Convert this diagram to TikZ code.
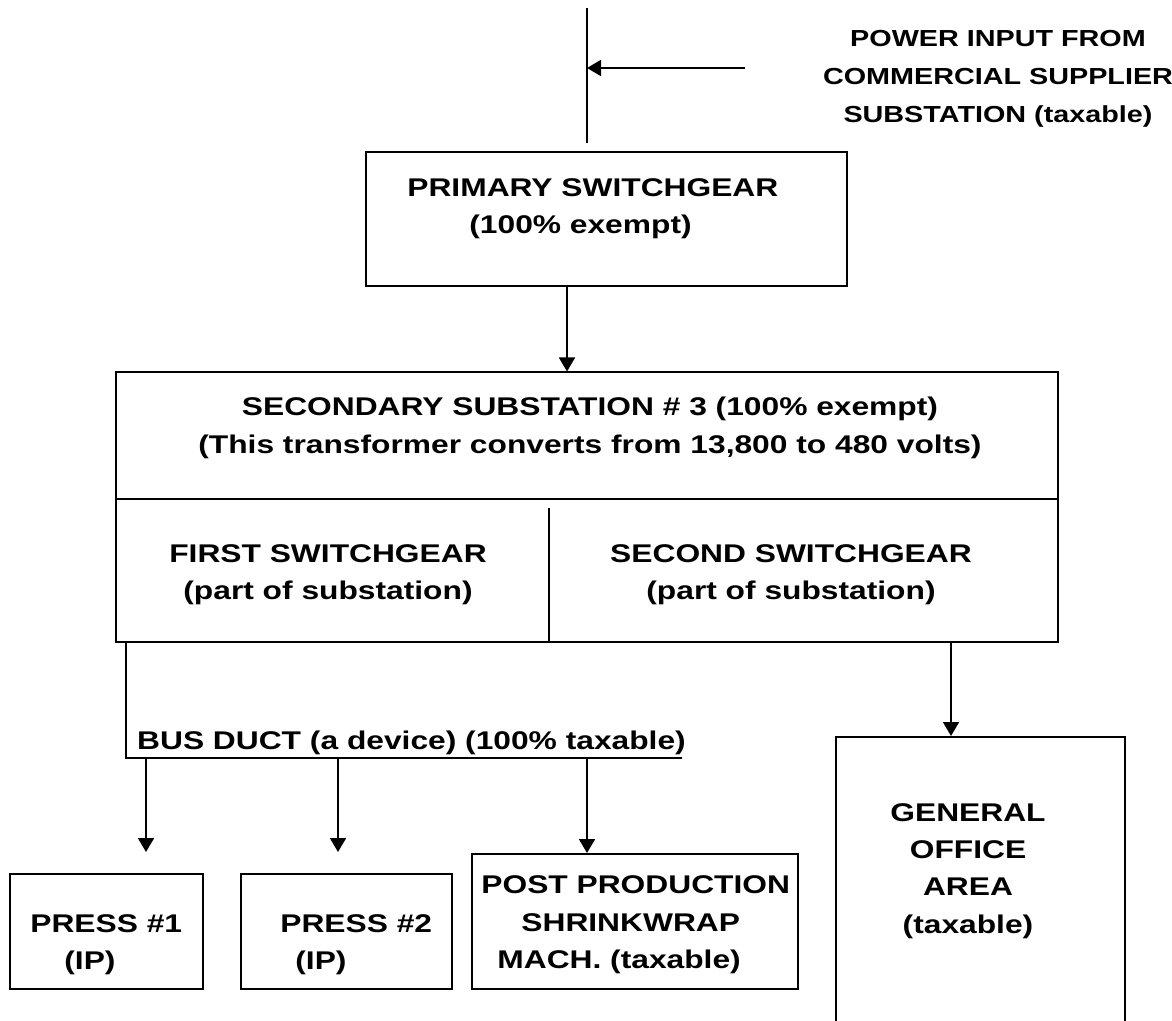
\documentclass[tikz,border=0pt]{standalone}
\usepackage{fontspec}
\setmainfont{Liberation Sans}[FakeStretch=1.24]
\usetikzlibrary{arrows.meta}
\begin{document}
\begin{tikzpicture}[x=0.5pt, y=-0.5pt,
    box/.style={draw, line width=1pt, inner sep=0pt},
    txt/.style={font=\fontsize{12.8}{18.7}\selectfont\bfseries, inner sep=0pt},
    wire/.style={line width=0.9pt},
    feed/.style={wire, -{Triangle[width=8pt,length=7pt]}}]
  \useasboundingbox (0,0) rectangle (1172,1021);
  \clip (0,0) rectangle (1172,1021);

  % Power input
  \coordinate (feedtop) at (587,8);
  \coordinate (feedbot) at (587,143);
  \coordinate (src) at (745,68);
  \coordinate (tap) at (587,68);
  \draw[wire] (feedtop) -- (feedbot);
  \draw[feed] (src) -- (tap);
  \node[txt, font=\fontsize{11.6}{19}\selectfont\bfseries, align=center] (input) at (998,79)
    {POWER INPUT FROM\\COMMERCIAL SUPPLIER\\SUBSTATION (taxable)};

  % Primary switchgear
  \node[box, minimum width=240.5pt, minimum height=67pt] (primary) at (606.5,219) {};
  \node[txt, anchor=west, align=left] (primarytxt) at (407,208.5)
    {PRIMARY SWITCHGEAR\\\hspace*{31pt}(100\% exempt)};

  % Secondary substation
  \node[box, minimum width=471pt, minimum height=134.75pt] (secondary) at (587,507.25) {};
  \draw[box] (secondary.west |- 0,499) -- (secondary.east |- 0,499);
  \draw[wire, line width=0.8pt] (549,508) -- (secondary.south -| 549,0);
  \node[txt, align=center] (secondarytxt) at (590,428)
    {SECONDARY SUBSTATION \# 3 (100\% exempt)\\(This transformer converts from 13,800 to 480 volts)};
  \node[txt, align=center] (firsttxt) at (328,575) {FIRST SWITCHGEAR\\(part of substation)};
  \node[txt, align=center] (secondtxt) at (791,575) {SECOND SWITCHGEAR\\(part of substation)};

  \coordinate (drop) at (567,0);
  \draw[feed] (primary.south -| drop) -- (secondary.north -| drop);

  % Bus duct
  \coordinate (busL) at (126,758);
  \coordinate (busR) at (682,758);
  \draw[wire] (secondary.south -| busL) -- (busL) -- (busR);
  \node[txt, anchor=base] (bustxt) at (411.5,749) {BUS DUCT (a device) (100\% taxable)};

  % Loads
  \node[box, minimum width=96.5pt, minimum height=57.5pt] (press1) at (106.5,931.5) {};
  \node[box, minimum width=105.5pt, minimum height=57.5pt] (press2) at (346.5,931.5) {};
  \node[box, minimum width=163pt, minimum height=67.5pt] (post) at (635,921.5) {};
  \node[box, minimum width=144.5pt, minimum height=151.5pt] (office) at (980.5,888.5) {};

  \node[txt, anchor=west, align=left] (press1txt) at (30,945) {PRESS \#1\\\hspace*{17pt}(IP)};
  \node[txt, anchor=west, align=left] (press2txt) at (280,945) {PRESS \#2\\\hspace*{7.5pt}(IP)};
  \node[txt, anchor=west, align=left] (posttxt) at (481,925)
    {POST PRODUCTION\\\hspace*{20pt}SHRINKWRAP\\\hspace*{8pt}MACH. (taxable)};
  \node[txt, align=center] (officetxt) at (968,871) {GENERAL\\OFFICE\\AREA\\(taxable)};

  \foreach \x/\n/\gap in {146/press1/10.5pt, 338/press2/10.5pt, 587/post/0pt}
    \draw[feed, shorten >=\gap] (busL -| \x,0) -- (\n.north -| \x,0);

  \coordinate (officedrop) at (951,0);
  \draw[feed] (secondary.south -| officedrop) -- (office.north -| officedrop);
\end{tikzpicture}
\end{document}
